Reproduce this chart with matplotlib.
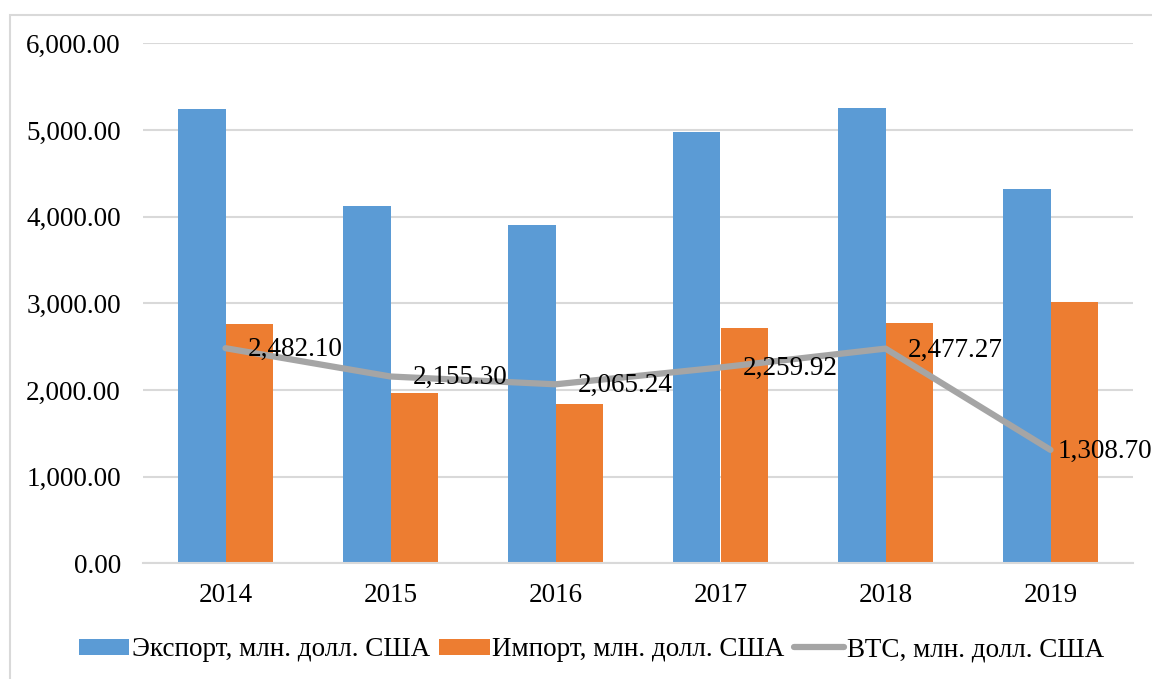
import numpy as np
import matplotlib
matplotlib.use('Agg')
import matplotlib.pyplot as plt
from matplotlib.patches import Rectangle

plt.rcParams['font.family'] = 'serif'
plt.rcParams['font.serif'] = ['Liberation Serif', 'Times New Roman', 'DejaVu Serif']

# values
years = ['2014', '2015', '2016', '2017', '2018', '2019']
export = [5245.2, 4125.3, 3903.2, 4970.9, 5253.3, 4321.7]
imports = [2763.1, 1970.0, 1838.0, 2711.0, 2776.0, 3013.0]
btc = [2482.10, 2155.30, 2065.24, 2259.92, 2477.27, 1308.70]
btc_labels = ['2,482.10', '2,155.30', '2,065.24', '2,259.92', '2,477.27', '1,308.70']
y_ticks = [0, 1000, 2000, 3000, 4000, 5000, 6000]

blue = '#5B9BD5'
orange = '#ED7D31'
grey = '#A5A5A5'
grid_c = '#D9D9D9'
fs = 19.5

fig = plt.figure(figsize=(11.52, 6.79), dpi=100)
ax = fig.add_axes([143/1152, 1 - 563.3/679, 990/1152, 520/679])

# outer chart border (runs off the right / bottom of the picture)
fig.patches.append(Rectangle((10/1152, -0.05), 1.2, 1 - 15/679 + 0.05,
                             transform=fig.transFigure, fill=False,
                             edgecolor=grid_c, linewidth=1.5))

x = np.arange(len(years))
w = 0.285
b1 = ax.bar(x - w/2, export, w, color=blue, label='Экспорт, млн. долл. США', zorder=2)
b2 = ax.bar(x + w/2, imports, w, color=orange, label='Импорт, млн. долл. США', zorder=2)
l1, = ax.plot(x, btc, color=grey, linewidth=4.5, solid_capstyle='round',
              label='ВТС, млн. долл. США', zorder=3)

# data labels to the right of the points; the last one is pushed left by Excel
offsets = [16, 16, 16, 16, 16, 5]
for xi, v, s, off in zip(x, btc, btc_labels, offsets):
    ax.annotate(s, (xi, v), xytext=(off, -1), textcoords='offset points',
                ha='left', va='center', fontsize=fs, color='black',
                annotation_clip=False, zorder=4)

ax.set_xlim(-0.5, len(years) - 0.5)
ax.set_ylim(0, 6000)
ax.set_yticks(y_ticks)
ax.set_yticklabels(['{:,.2f}'.format(t) for t in y_ticks])
ax.set_xticks(x)
ax.set_xticklabels(years)
ax.tick_params(axis='both', length=0, labelsize=fs)
ax.tick_params(axis='y', pad=16)
ax.tick_params(axis='x', pad=14)

ax.grid(axis='y', color=grid_c, linewidth=1.5, zorder=0)
ax.set_axisbelow(True)
for side in ['top', 'right', 'left']:
    ax.spines[side].set_visible(False)
ax.spines['bottom'].set_color(grid_c)
ax.spines['bottom'].set_linewidth(1.5)

fig.legend(handles=[b1, b2, l1], loc='center', bbox_to_anchor=(0.5135, 0.043),
           ncol=3, frameon=False, fontsize=19.5, handlelength=1.85,
           handleheight=0.55, handletextpad=0.1, columnspacing=0.35)

fig.savefig('out.png', dpi=100)
